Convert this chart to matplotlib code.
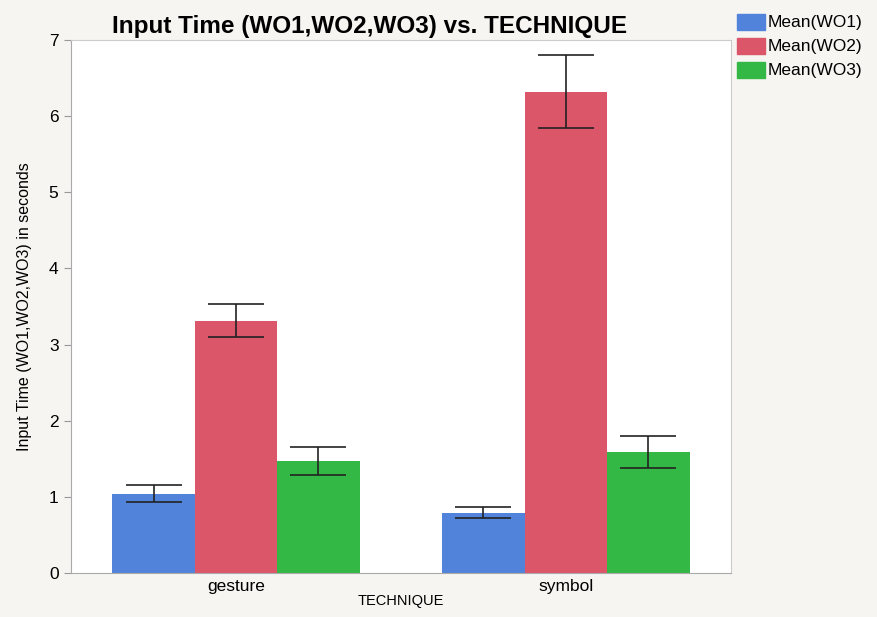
import numpy as np
import matplotlib.pyplot as plt
from matplotlib.patches import Rectangle

# Data
techniques = ['gesture', 'symbol']
series = ['Mean(WO1)', 'Mean(WO2)', 'Mean(WO3)']
wo1_mean = [1.04, 0.79]
wo2_mean = [3.31, 6.32]
wo3_mean = [1.47, 1.59]
wo1_lo = [0.93, 0.72]
wo1_hi = [1.15, 0.87]
wo2_lo = [3.10, 5.85]
wo2_hi = [3.53, 6.80]
wo3_lo = [1.29, 1.38]
wo3_hi = [1.66, 1.80]

colors = ['#5083d9', '#db5669', '#34b845']
bg = '#f6f5f2'

plt.rcParams['font.family'] = ['Liberation Sans', 'DejaVu Sans']

fig = plt.figure(figsize=(8.78, 6.17), dpi=100, facecolor=bg)
ax = fig.add_axes([71 / 878, 1 - 573 / 617, 660 / 878, 533 / 617])
ax.set_facecolor('white')

x = np.arange(len(techniques))
w = 0.25
means = [wo1_mean, wo2_mean, wo3_mean]
los = [wo1_lo, wo2_lo, wo3_lo]
his = [wo1_hi, wo2_hi, wo3_hi]
for i in range(3):
    m = np.array(means[i])
    err = [m - np.array(los[i]), np.array(his[i]) - m]
    ax.bar(x + (i - 1) * w, m, width=w, color=colors[i], edgecolor='none',
           label=series[i], zorder=2)
    ax.errorbar(x + (i - 1) * w, m, yerr=err, fmt='none', ecolor='#222222',
                elinewidth=1.2, capsize=20, capthick=1.2, zorder=3)

ax.set_xlim(-0.5, 1.5)
ax.set_ylim(0, 7)
ax.set_yticks(range(8))
ax.set_xticks(x)
ax.set_xticklabels(techniques, fontsize=12.5)
ax.tick_params(axis='x', length=0, pad=4)
ax.tick_params(axis='y', length=5, color='#999999', labelsize=12.5, pad=4)
for s in ['left', 'bottom']:
    ax.spines[s].set_color('#aaaaaa')
for s in ['top', 'right']:
    ax.spines[s].set_color('#cccccc')

ax.set_ylabel('Input Time (WO1,WO2,WO3) in seconds', fontsize=11.5, labelpad=12)
ax.set_xlabel('TECHNIQUE', fontsize=10.5, labelpad=0)

fig.text(370 / 878, 1 - 27 / 617, 'Input Time (WO1,WO2,WO3) vs. TECHNIQUE',
         ha='center', va='center', fontsize=17.5, fontweight='bold')

# legend drawn as swatches in figure coords
for i in range(3):
    y = 22 + i * 24
    fig.patches.append(Rectangle((737 / 878, 1 - (y + 8) / 617), 28 / 878, 16 / 617,
                                 transform=fig.transFigure, color=colors[i]))
    fig.text(768 / 878, 1 - y / 617, series[i], ha='left', va='center', fontsize=12.5)

plt.savefig('out.png', dpi=100, facecolor=bg)
